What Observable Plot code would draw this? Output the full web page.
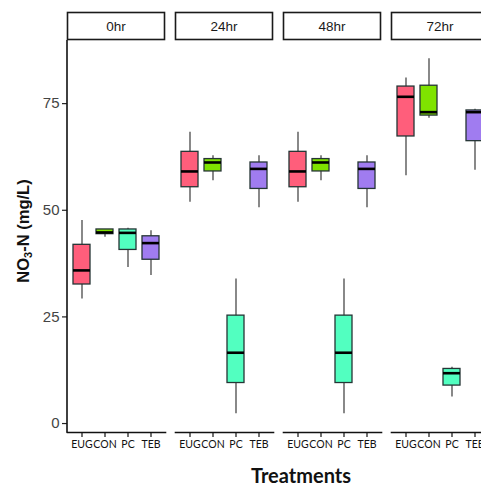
<!DOCTYPE html>
<html>
<head>
<meta charset="utf-8">
<script src="https://cdn.jsdelivr.net/npm/d3@7"></script>
<script src="https://cdn.jsdelivr.net/npm/@observablehq/plot@0.6"></script>
<style>
  html, body { margin: 0; padding: 0; background: #fff; overflow: hidden; }
  #chart svg { display: block; max-width: none !important; }
</style>
</head>
<body>
<div id="chart"></div>
<script>
// Facets (time) and treatments
const times = ["0hr", "24hr", "48hr", "72hr"];
const treatments = ["EUG", "CON", "PC", "TEB"];
const yTicks = [0, 25, 50, 75];
const colors = ["#FF5E7B", "#7FE300", "#52FFC0", "#A07CF0"];

// Box summaries per time, in treatment order (EUG, CON, PC, TEB)
const minVals = {
  "0hr":  [29.2, 43.7, 36.6, 34.7],
  "24hr": [51.9, 56.9, 2.3, 50.6],
  "48hr": [51.9, 56.9, 2.3, 50.6],
  "72hr": [58.1, 71.6, 6.2, 59.4]
};
const q1Vals = {
  "0hr":  [32.6, 44.4, 40.7, 38.4],
  "24hr": [55.4, 59.1, 9.5, 55.0],
  "48hr": [55.4, 59.1, 9.5, 55.0],
  "72hr": [67.3, 72.2, 8.9, 66.2]
};
const medianVals = {
  "0hr":  [35.9, 44.8, 44.7, 42.3],
  "24hr": [59.1, 61.2, 16.6, 59.7],
  "48hr": [59.1, 61.2, 16.6, 59.7],
  "72hr": [76.6, 73.0, 11.8, 73.0]
};
const q3Vals = {
  "0hr":  [41.9, 45.5, 45.5, 43.9],
  "24hr": [63.7, 62.0, 25.3, 61.2],
  "48hr": [63.7, 62.0, 25.3, 61.2],
  "72hr": [79.0, 79.2, 12.8, 73.4]
};
const maxVals = {
  "0hr":  [47.6, 45.5, 45.8, 45.2],
  "24hr": [68.3, 62.8, 33.9, 62.8],
  "48hr": [68.3, 62.8, 33.9, 62.8],
  "72hr": [81.0, 85.5, 13.2, 73.7]
};

const rows = times.flatMap(t => treatments.map((tr, i) => ({
  time: t, trt: tr,
  min: minVals[t][i], q1: q1Vals[t][i], med: medianVals[t][i],
  q3: q3Vals[t][i], max: maxVals[t][i]
})));

const W = 492, H = 486;
const mL = 67, mT = 40, mB = 54, mR = 3;

const chart = Plot.plot({
  width: W,
  height: H,
  marginLeft: mL,
  marginTop: mT,
  marginBottom: mB,
  marginRight: mR,
  style: { background: "transparent", overflow: "visible", maxWidth: "none" },
  fx: { domain: times, paddingInner: 0.093, paddingOuter: 0, axis: null, label: null },
  x: { domain: treatments, paddingInner: 0.28, paddingOuter: 0.23, label: null, axis: null },
  y: { domain: [-2.1, 89.8], ticks: yTicks, label: null, axis: null },
  color: { domain: treatments, range: colors },
  marks: [
    Plot.frame({ anchor: "bottom", stroke: "#111", strokeWidth: 1.6 }),
    Plot.axisX({
      ticks: treatments, tickSize: 5, tickPadding: 3, label: null,
      fontSize: 10.5, fontFamily: "Lato, 'Open Sans', sans-serif",
      color: "#111", stroke: "#111", strokeWidth: 1.2
    }),
    Plot.axisY({
      ticks: yTicks, tickSize: 5, tickPadding: 3, label: null,
      fontSize: 15, fontFamily: "'Liberation Sans', Arial, sans-serif",
      color: "#444", stroke: "#222", strokeWidth: 1.2
    }),
    // whiskers
    Plot.ruleX(rows, { fx: "time", x: "trt", y1: "min", y2: "max", stroke: "#3a3a3a", strokeWidth: 1.2 }),
    // boxes
    Plot.barY(rows, { fx: "time", x: "trt", y1: "q1", y2: "q3", fill: "trt", stroke: "#253535", strokeWidth: 1.3 }),
    // medians
    Plot.tickY(rows, { fx: "time", x: "trt", y: "med", stroke: "#000", strokeWidth: 2.6 })
  ]
});

const svg = d3.select(chart);
const fx = chart.scale("fx");
const bw = fx.bandwidth;

// left axis line on first panel
svg.append("line")
  .attr("x1", mL).attr("x2", mL)
  .attr("y1", mT).attr("y2", H - mB + 0.8)
  .attr("stroke", "#111").attr("stroke-width", 1.6);

// facet strip headers
const strips = svg.append("g");
times.forEach(t => {
  const x0 = fx.apply(t);
  strips.append("rect")
    .attr("x", x0 + 0.5).attr("y", 12.5)
    .attr("width", bw - 1).attr("height", 27)
    .attr("fill", "#fff").attr("stroke", "#1a1a1a").attr("stroke-width", 1.6);
  strips.append("text")
    .attr("x", x0 + bw / 2).attr("y", 26)
    .attr("dy", "0.35em")
    .attr("text-anchor", "middle")
    .attr("font-family", "'Liberation Sans', Arial, sans-serif")
    .attr("font-size", 13.5)
    .attr("fill", "#1a1a1a")
    .text(t);
});

// y axis title with subscript 3
const yt = svg.append("text")
  .attr("transform", `translate(29,${(mT + H - mB) / 2 - 5}) rotate(-90)`)
  .attr("text-anchor", "middle")
  .attr("font-family", "'Liberation Sans', Arial, sans-serif")
  .attr("font-size", 16.5)
  .attr("font-weight", "bold")
  .attr("fill", "#111");
yt.append("tspan").text("NO");
yt.append("tspan").attr("font-size", 11).attr("dy", 3).text("3");
yt.append("tspan").attr("dy", -3).text("-N (mg/L)");

// x axis title
svg.append("text")
  .attr("x", 301).attr("y", 483)
  .attr("text-anchor", "middle")
  .attr("font-family", "Lato, 'Open Sans', sans-serif")
  .attr("font-size", 20)
  .attr("font-weight", "bold")
  .attr("fill", "#111")
  .text("Treatments");

document.getElementById("chart").append(chart);
</script>
</body>
</html>
